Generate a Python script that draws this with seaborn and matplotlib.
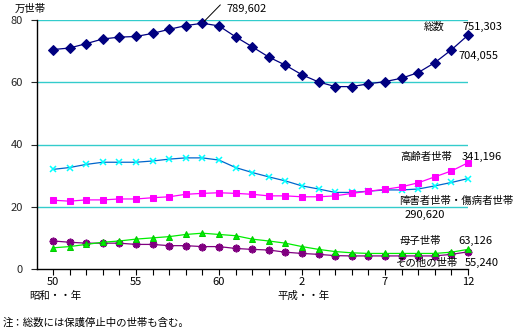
import matplotlib
matplotlib.use("Agg")
import matplotlib.pyplot as plt
import seaborn as sns

years = list(range(1975, 2001))
tick_years = [1975, 1980, 1985, 1990, 1995, 2000]
tick_labels = ["50", "55", "60", "2", "7", "12"]

total = [70.5, 71.0, 72.4, 73.9, 74.5, 74.7, 75.7, 77.0, 78.2, 78.96, 78.1, 74.6,
         71.4, 68.1, 65.5, 62.4, 60.1, 58.6, 58.6, 59.5, 60.2, 61.3, 63.1, 66.3, 70.41, 75.13]
elderly = [22.1, 21.8, 22.2, 22.2, 22.5, 22.5, 22.9, 23.2, 24.0, 24.3, 24.5, 24.3,
           24.0, 23.5, 23.5, 23.2, 23.2, 23.5, 24.3, 25.0, 25.6, 26.4, 27.7, 29.6, 31.5, 34.12]
disabled = [32.0, 32.6, 33.6, 34.3, 34.3, 34.3, 34.7, 35.3, 35.7, 35.7, 35.0, 32.6,
            31.0, 29.6, 28.3, 26.7, 25.7, 24.6, 24.6, 25.0, 25.4, 25.4, 25.7, 26.7, 27.8, 29.06]
mother = [6.8, 7.2, 7.9, 8.6, 9.0, 9.6, 10.0, 10.4, 11.1, 11.5, 11.1, 10.7,
          9.6, 9.0, 8.3, 7.2, 6.3, 5.6, 5.2, 5.0, 5.0, 5.0, 5.0, 5.0, 5.4, 6.31]
other = [9.0, 8.6, 8.3, 8.3, 8.3, 7.9, 7.9, 7.5, 7.5, 7.2, 7.2, 6.6,
         6.3, 6.1, 5.4, 5.0, 4.7, 4.3, 4.2, 4.2, 4.2, 4.2, 4.2, 4.2, 4.7, 5.52]

sns.set_style("white")
plt.rcParams['font.family'] = ['Noto Sans CJK JP', 'DejaVu Sans']

W, H = 520, 332
fig = plt.figure(figsize=(W / 100, H / 100), dpi=100)
ax = fig.add_axes([37 / W, 1 - 269 / H, (468 - 37) / W, (269 - 20) / H])

for yv in [20, 40, 60, 80]:
    ax.axhline(yv, color="#33CCCC", lw=1.0, zorder=0)

common = dict(ax=ax, lw=0.9, clip_on=False)
sns.lineplot(x=years, y=other, color="#800080", marker=(8, 2, 0), markersize=5.5,
             markeredgewidth=1.3, markeredgecolor="#800080", **common)
sns.lineplot(x=years, y=mother, color="#00EE00", marker="^", markersize=4.5,
             markeredgecolor="#00CC00", markerfacecolor="#00EE00", **common)
sns.lineplot(x=years, y=disabled, color="#0066CC", marker="x", markersize=4.5,
             markeredgewidth=1.1, markeredgecolor="#00FFFF", **common)
sns.lineplot(x=years, y=elderly, color="#FF00FF", marker="s", markersize=4,
             markeredgecolor="#FF00FF", markerfacecolor="#FF00FF", **common)
sns.lineplot(x=years, y=total, color="#000080", marker="D", markersize=5,
             markeredgecolor="#000080", markerfacecolor="#000080", **common)

ax.set_xlim(1974.04, 2000)
ax.set_ylim(0, 80)
ax.set_yticks([0, 20, 40, 60, 80])
ax.set_xticks(tick_years)
ax.set_xticklabels(tick_labels)
ax.set_xticks(years, minor=True)
ax.tick_params(axis="x", which="both", direction="out", length=4, width=0.8,
               colors="black", labelsize=8, pad=1.5, bottom=True)
ax.tick_params(axis="y", direction="out", length=4, width=0.8, labelsize=8,
               pad=6, left=True)
for s in ["top", "right"]:
    ax.spines[s].set_visible(False)
for s in ["left", "bottom"]:
    ax.spines[s].set_color("black")
    ax.spines[s].set_linewidth(1.0)
ax.set_xlabel("")
ax.set_ylabel("")

def t(x, y, s, ha="left", size=7.5):
    fig.text(x / W, 1 - y / H, s, ha=ha, va="center", fontsize=size, color="black")

t(15, 9, "万世帯")
t(226, 9, "789,602", size=8)
ax.annotate("", xy=(1984, total[9]), xytext=(1985.2, 85.5),
            arrowprops=dict(arrowstyle="-", color="black", lw=0.7), annotation_clip=False)
t(424, 27, "総数")
t(462, 27, "751,303", size=8)
t(458, 56, "704,055", size=8)
t(400, 157, "高齢者世帯")
t(462, 157, "341,196", size=8)
t(399, 201, "障害者世帯・傷病者世帯")
t(405, 215, "290,620", size=8)
t(400, 241, "母子世帯")
t(458, 241, "63,126", size=8)
t(396, 263, "その他の世帯")
t(465, 263, "55,240", size=8)
t(29, 296, "昭和・・年")
t(277, 296, "平成・・年")
t(3, 323, "注：総数には保護停止中の世帯も含む。")

fig.savefig("out.png", dpi=100)
